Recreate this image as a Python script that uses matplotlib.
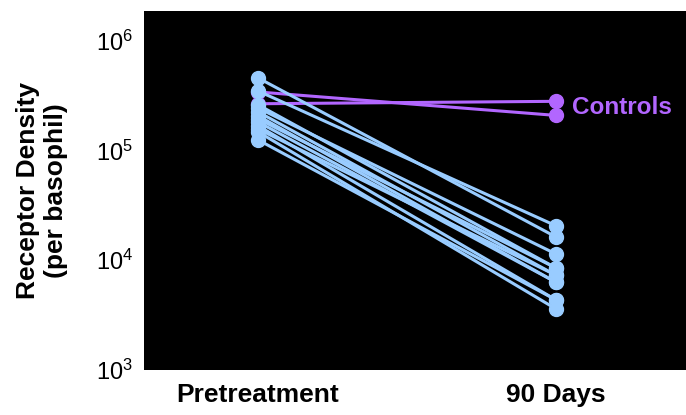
import matplotlib.pyplot as plt
import numpy as np

plt.rcParams['font.family'] = ['Liberation Sans', 'DejaVu Sans']

# receptor density per basophil
conditions = ["Pretreatment", "90 Days"]
treated_pre = [4.59e5, 3.49e5, 2.61e5, 2.44e5, 2.25e5, 2.07e5,
               1.94e5, 1.82e5, 1.68e5, 1.57e5, 1.48e5, 1.25e5]
treated_90d = [1.63e4, 2.06e4, 8.5e3, 1.14e4, 7.3e3, 6.3e3,
               8.5e3, 6.3e3, 4.35e3, 7.3e3, 3.6e3, 4.35e3]
control_pre = [3.42e5, 2.67e5]
control_90d = [2.09e5, 2.81e5]

blue = '#99ccff'
purple = '#b266ff'

fig = plt.figure(figsize=(6.86, 4.15), dpi=100)
ax = fig.add_axes([0.2099, 0.1084, 0.7901, 0.8651])
ax.set_facecolor('black')

x = np.arange(len(conditions))
for a, b in zip(control_pre, control_90d):
    ax.plot(x, [a, b], color=purple, lw=2.2, marker='o', ms=10, zorder=2)
for a, b in zip(treated_pre, treated_90d):
    ax.plot(x, [a, b], color=blue, lw=2.2, marker='o', ms=10, zorder=3)

ax.text(1.053, np.mean(control_90d), "Controls", color=purple,
        fontsize=17.5, fontweight='bold', va='center', ha='left')

ax.set_yscale('log')
ax.set_ylim(1e3, 1.87e6)
ax.set_xlim(-0.383, 1.436)
ax.set_yticks([1e3, 1e4, 1e5, 1e6])
ax.set_yticklabels([r'$\mathregular{10^{%d}}$' % p for p in (3, 4, 5, 6)],
                   fontsize=17)
ax.yaxis.set_minor_locator(plt.NullLocator())
ax.set_xticks(x)
ax.set_xticklabels(conditions, fontsize=19, fontweight='bold')
ax.tick_params(length=0)
ax.tick_params(axis='x', pad=9)
ax.tick_params(axis='y', pad=8)
for s in ax.spines.values():
    s.set_visible(False)

ax.set_ylabel("Receptor Density\n(per basophil)", fontsize=19,
              fontweight='bold', labelpad=20, linespacing=1.2)

fig.savefig('out.png', dpi=100)
